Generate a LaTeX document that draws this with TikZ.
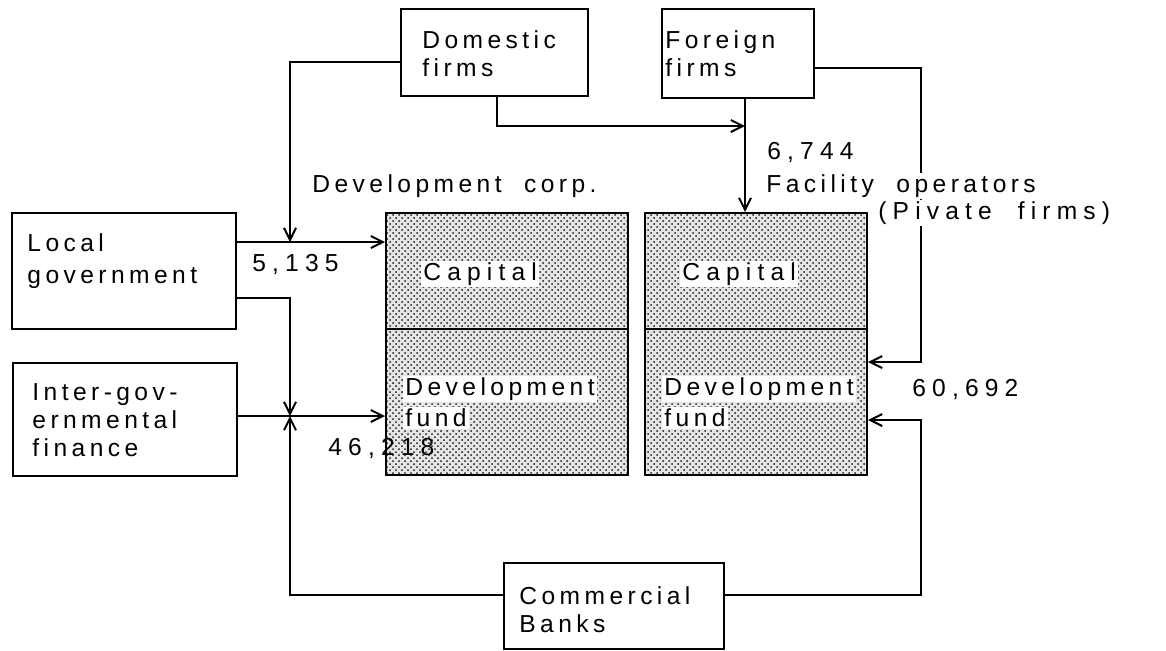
\documentclass[tikz,border=0pt]{standalone}
\usepackage{fontspec}
\setmainfont{Liberation Sans}[LetterSpace=18]
\newfontfamily\widefont{Liberation Sans}[LetterSpace=25]
\usetikzlibrary{arrows.meta,positioning,patterns,calc}

\begin{document}
\begin{tikzpicture}[x=0.5pt,y=-0.5pt,font=\fontsize{12.3}{14}\selectfont,
    box/.style={draw,line width=1pt,anchor=north west,inner sep=0pt},
    fundfill/.style={box,preaction={fill=black!10},pattern=crosshatch dots,pattern color=black!90},
    flow/.style={line width=1pt,-{Straight Barb[length=6pt,width=6pt]}},
    lbl/.style={anchor=west,inner sep=1pt},
    wide/.style={lbl,font=\fontsize{12.3}{14}\widefont},
    txt/.style={anchor=north west,align=left,inner sep=1pt}]
  \useasboundingbox (0,0) rectangle (1166,650);

  % boxes
  \node[box,minimum width=93.5pt,minimum height=43.5pt] (dom) at (400,8) {};
  \node[box,minimum width=76pt,minimum height=44.5pt] (for) at (661,8) {};
  \node[box,minimum width=112pt,minimum height=58pt] (local) at (11,212) {};
  \node[box,minimum width=112pt,minimum height=56.5pt] (inter) at (12,362) {};
  \node[box,minimum width=110pt,minimum height=43pt] (banks) at (503,562) {};
  \node[fundfill,minimum width=121pt,minimum height=58pt] (corpcap) at (385,212) {};
  \node[fundfill,minimum width=121pt,minimum height=73pt] (corpfund) at (385,328) {};
  \node[fundfill,minimum width=111pt,minimum height=58pt] (faccap) at (644,212) {};
  \node[fundfill,minimum width=111pt,minimum height=73pt] (facfund) at (644,328) {};

  \node[txt] (domt) at (420,28) {Domestic\\firms};
  \node[txt] (fort) at (663,28) {Foreign\\firms};
  \node[txt] (localt) at (25,231) {Local\\[2pt]government};
  \node[txt] (intert) at (30,381) {Inter-gov-\\ernmental\\finance};
  \node[txt] (bankst) at (517,584) {Commercial\\Banks};

  \node[wide,fill=white] (corpc) at (421,274) {Capital};
  \node[lbl,fill=white] (corpd) at (403,389) {Development};
  \node[lbl,fill=white] (corpf) at (403,418) {fund};
  \node[wide,fill=white] (facc) at (680,274) {Capital};
  \node[lbl,fill=white] (facd) at (662,389) {Development};
  \node[lbl,fill=white] (facf) at (662,418) {fund};

  % connectors
  \coordinate (jA) at (290,242);
  \coordinate (jB) at (290,416);
  \coordinate (rcol) at (921,0);
  \coordinate (fdown) at (745,97);
  \coordinate (fmid) at (745,126);
  \coordinate (fa) at ([shift={(0,34)}]facfund.north east);
  \coordinate (fb) at ([shift={(0,92)}]facfund.north east);

  \draw[flow] ([shift={(0,54)}]dom.north west) -| (jA);
  \draw[flow] (jA -| local.east) -- (jA -| corpcap.west);
  \draw[flow] ([shift={(0,86)}]local.north east) -| (jB);
  \draw[flow] (jB -| inter.east) -- (jB -| corpfund.west);
  \draw[flow] ([shift={(0,33)}]banks.north west) -| (jB);
  \draw[flow] (dom.south -| 497,0) |- (fmid);
  \draw[flow] (fdown) -- (fdown |- faccap.north);
  \draw[flow] ([shift={(0,60)}]for.north east) -| (rcol |- fa) -- (fa);
  \draw[flow] ([shift={(0,33)}]banks.north east) -| (rcol |- fb) -- (fb);

  % labels
  \node[lbl] (corp) at (310,186) {Development\ \ corp.};
  \node[wide] (v1) at (250,264) {5,135};
  \node[wide] (v2) at (326,448) {46,218};
  \node[wide] (v3) at (765,152) {6,744};
  \node[lbl,fill=white] (fop) at (764,186) {Facility\ \ operators};
  \node[wide,fill=white] (pf) at (876,213) {(Pivate\ \ firms)};
  \node[wide] (v4) at (910,389) {60,692};
\end{tikzpicture}
\end{document}
